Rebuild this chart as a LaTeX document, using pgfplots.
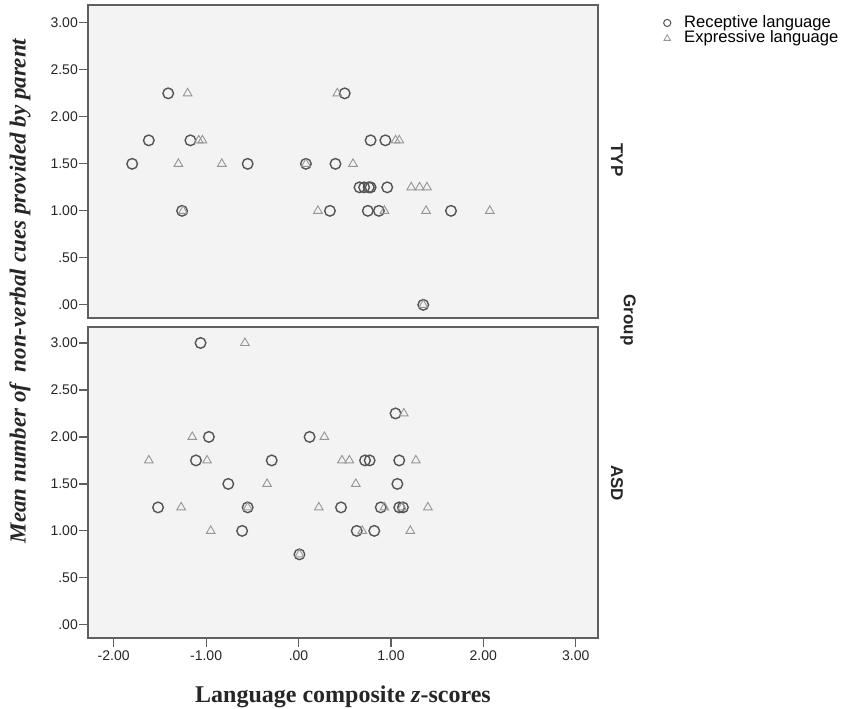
\documentclass[border=0pt]{standalone}
\usepackage{fontspec}
\setmainfont{Liberation Serif}
\setsansfont{Liberation Sans}
\usepackage{pgfplots}
\pgfplotsset{compat=1.18}
\definecolor{circcol}{RGB}{85,85,85}
\definecolor{tricol}{RGB}{150,150,150}
\definecolor{bgcol}{RGB}{243,243,243}
\definecolor{framecol}{RGB}{95,95,95}
\pgfplotsset{
 panel/.style={
   scale only axis, width=510pt,
   xmin=-2.278, xmax=3.241,
   ymin=-0.14,
   axis background/.style={fill=bgcol},
   axis line style={draw=framecol, line width=1.3pt},
   ytick={0,0.5,1,1.5,2,2.5,3},
   yticklabels={.00,.50,1.00,1.50,2.00,2.50,3.00},
   ytick pos=left,
   tick align=outside,
   major tick length=9pt,
   tick style={draw=framecol, line width=1.2pt},
   tick label style={font=\sffamily\fontsize{14}{14}\selectfont, text=black!85},
   yticklabel style={inner sep=1pt},
   clip=false,
 },
 rec/.style={only marks, color=circcol, mark=o, mark size=5.3pt, line width=1.4pt,
   legend image code/.code={\draw[##1, mark size=3.6pt, line width=1pt] plot coordinates {(0pt,0pt)};
     \path[draw=none,fill=none] (-4pt,0pt) (16pt,0pt);}},
 exp/.style={only marks, color=tricol, mark=triangle, mark size=5pt, line width=0.9pt,
   legend image code/.code={\draw[##1, mark size=3.8pt, line width=0.8pt] plot coordinates {(0pt,0pt)};
     \path[draw=none,fill=none] (-4pt,0pt) (16pt,0pt);}},
}
\begin{document}
\begin{tikzpicture}
\path[use as bounding box] (0pt,0pt) rectangle (846pt,709pt);
% TYP panel
\begin{axis}[panel, at={(88pt,391pt)}, anchor=south west, height=313pt, ymax=3.19, xtick=\empty,
  legend style={at={(1.1275,0.968)}, anchor=north west, draw=none, fill=none,
    font=\sffamily\fontsize{16.6}{16.6}\selectfont, inner sep=0pt, row sep=0pt,
    nodes={text height=11pt, text depth=2.5pt, inner sep=1pt}},
  legend cell align=left]
\addplot[rec] coordinates {
 (-1.41,2.25) (0.50,2.25)
 (-1.62,1.75) (-1.17,1.75) (0.78,1.75) (0.94,1.75)
 (-1.80,1.50) (-0.55,1.50) (0.08,1.50) (0.40,1.50)
 (0.66,1.25) (0.71,1.25) (0.76,1.25) (0.78,1.25) (0.96,1.25)
 (-1.26,1.00) (0.34,1.00) (0.75,1.00) (0.87,1.00) (1.65,1.00)
 (1.35,0.00)};
\addlegendentry{Receptive language}
\addplot[exp] coordinates {
 (-1.20,2.25) (0.42,2.25)
 (-1.08,1.75) (-1.04,1.75) (1.05,1.75) (1.09,1.75)
 (-1.30,1.50) (-0.83,1.50) (0.08,1.50) (0.59,1.50)
 (1.22,1.25) (1.31,1.25) (1.39,1.25)
 (-1.25,1.00) (0.21,1.00) (0.93,1.00) (1.38,1.00) (2.07,1.00)
 (1.35,0.00)};
\addlegendentry{Expressive language}
\end{axis}
% ASD panel
\begin{axis}[panel, at={(88pt,71pt)}, anchor=south west, height=311pt, ymax=3.17,
  xtick={-2,-1,0,1,2,3}, xticklabels={-2.00,-1.00,.00,1.00,2.00,3.00}, xtick pos=left]
\addplot[rec] coordinates {
 (-1.06,3.00)
 (1.05,2.25)
 (-0.97,2.00) (0.12,2.00)
 (-1.11,1.75) (-0.29,1.75) (0.72,1.75) (0.77,1.75) (1.09,1.75)
 (-0.76,1.50) (1.07,1.50)
 (-1.52,1.25) (-0.55,1.25) (0.46,1.25) (0.89,1.25) (1.09,1.25) (1.13,1.25)
 (-0.61,1.00) (0.63,1.00) (0.82,1.00)
 (0.01,0.75)};
\addplot[exp] coordinates {
 (-0.58,3.00)
 (1.14,2.25)
 (-1.15,2.00) (0.28,2.00)
 (-1.62,1.75) (-0.99,1.75) (0.47,1.75) (0.55,1.75) (1.27,1.75)
 (-0.34,1.50) (0.62,1.50)
 (-1.27,1.25) (-0.55,1.25) (0.22,1.25) (0.93,1.25) (1.12,1.25) (1.40,1.25)
 (-0.95,1.00) (0.69,1.00) (1.21,1.00)
 (0.01,0.75)};
\end{axis}
\node[rotate=-90, font=\sffamily\bfseries\fontsize{17}{17}\selectfont, text=black!85] at (617pt,549pt) {TYP};
\node[rotate=-90, font=\sffamily\bfseries\fontsize{17}{17}\selectfont, text=black!85] at (617pt,226pt) {ASD};
\node[rotate=-90, font=\sffamily\bfseries\fontsize{17}{17}\selectfont, text=black!85] at (628pt,389pt) {Group};
\node[rotate=90, font=\bfseries\itshape\fontsize{23}{23}\selectfont, text=black!85] at (20pt,418pt) {Mean number of\ \ non-verbal cues provided by parent};
\node[anchor=base, font=\bfseries\fontsize{24}{24}\selectfont, text=black!85] at (343pt,6pt) {Language composite \textit{z}-scores};
\end{tikzpicture}
\end{document}
